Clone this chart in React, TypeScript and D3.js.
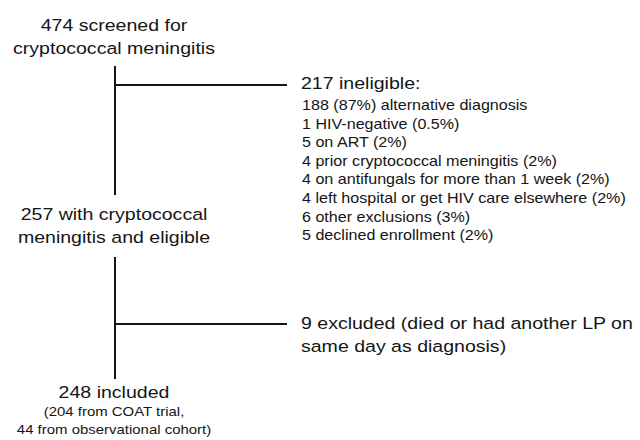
import React, { useRef, useEffect } from 'react';
import * as d3 from 'd3';

// flowchart text
const screenedLines = ['474 screened for', 'cryptococcal meningitis'];
const eligibleLines = ['257 with cryptococcal', 'meningitis and eligible'];
const includedTitle = '248 included';
const includedSub = ['(204 from COAT trial,', '44 from observational cohort)'];
const ineligibleTitle = '217 ineligible:';
const ineligibleItems = [
  '188 (87%) alternative diagnosis',
  '1 HIV-negative (0.5%)',
  '5 on ART (2%)',
  '4 prior cryptococcal meningitis (2%)',
  '4 on antifungals for more than 1 week (2%)',
  '4 left hospital or get HIV care elsewhere (2%)',
  '6 other exclusions (3%)',
  '5 declined enrollment (2%)',
];
const excludedLines = ['9 excluded (died or had another LP on', 'same day as diagnosis)'];

const FONT = '"Liberation Sans", Arial, Helvetica, sans-serif';
const SX = 1.15; // the source text is a bit wider than Arial

const Flow = () => {
  const svgRef = useRef(null);

  useEffect(() => {
    document.body.style.margin = '0';
    const svg = d3.select(svgRef.current);
    svg.selectAll('*').remove();

    const cx = 115;   // trunk x
    const sideX = 301; // text column on the right
    const ink = '#151515';

    const addText = (lines, x, y0, step, size, anchor) => {
      svg.append('g')
        .selectAll('text')
        .data(lines)
        .enter().append('text')
        .attr('transform', (d, i) => `translate(${x},${y0 + i * step}) scale(${SX},1)`)
        .attr('text-anchor', anchor)
        .attr('font-family', FONT)
        .attr('font-size', size)
        .attr('fill', ink)
        .text(d => d);
    };

    // trunk segments and branches
    const trunk = [
      { y1: 66, y2: 195 },
      { y1: 257, y2: 379 },
    ];
    const branches = [85, 324];

    svg.append('g')
      .selectAll('line.trunk')
      .data(trunk)
      .enter().append('line')
      .attr('x1', cx).attr('x2', cx)
      .attr('y1', d => d.y1).attr('y2', d => d.y2)
      .attr('stroke', ink).attr('stroke-width', 2);

    svg.append('g')
      .selectAll('line.branch')
      .data(branches)
      .enter().append('line')
      .attr('x1', cx).attr('x2', 287)
      .attr('y1', d => d).attr('y2', d => d)
      .attr('stroke', ink).attr('stroke-width', 2);

    // nodes on the trunk
    addText(screenedLines, 114, 31, 23, 17, 'middle');
    addText(eligibleLines, 114, 220, 23, 17, 'middle');
    addText([includedTitle], 114, 398, 0, 17, 'middle');
    addText(includedSub, 114, 416, 18, 13, 'middle');

    // side boxes
    addText([ineligibleTitle], sideX, 89, 0, 17, 'start');
    const rowY = d3.scaleLinear().domain([0, 1]).range([110, 128.6]);
    svg.append('g')
      .selectAll('text')
      .data(ineligibleItems)
      .enter().append('text')
      .attr('transform', (d, i) => `translate(${sideX + 1},${rowY(i)}) scale(${SX},1)`)
      .attr('font-family', FONT)
      .attr('font-size', 14)
      .attr('fill', ink)
      .text(d => d);

    addText(excludedLines, sideX, 329, 23, 17, 'start');
  }, []);

  return <svg ref={svgRef} width={640} height={440} style={{ display: 'block', background: '#fff' }} />;
};

export default function App() {
  return <Flow />;
}
